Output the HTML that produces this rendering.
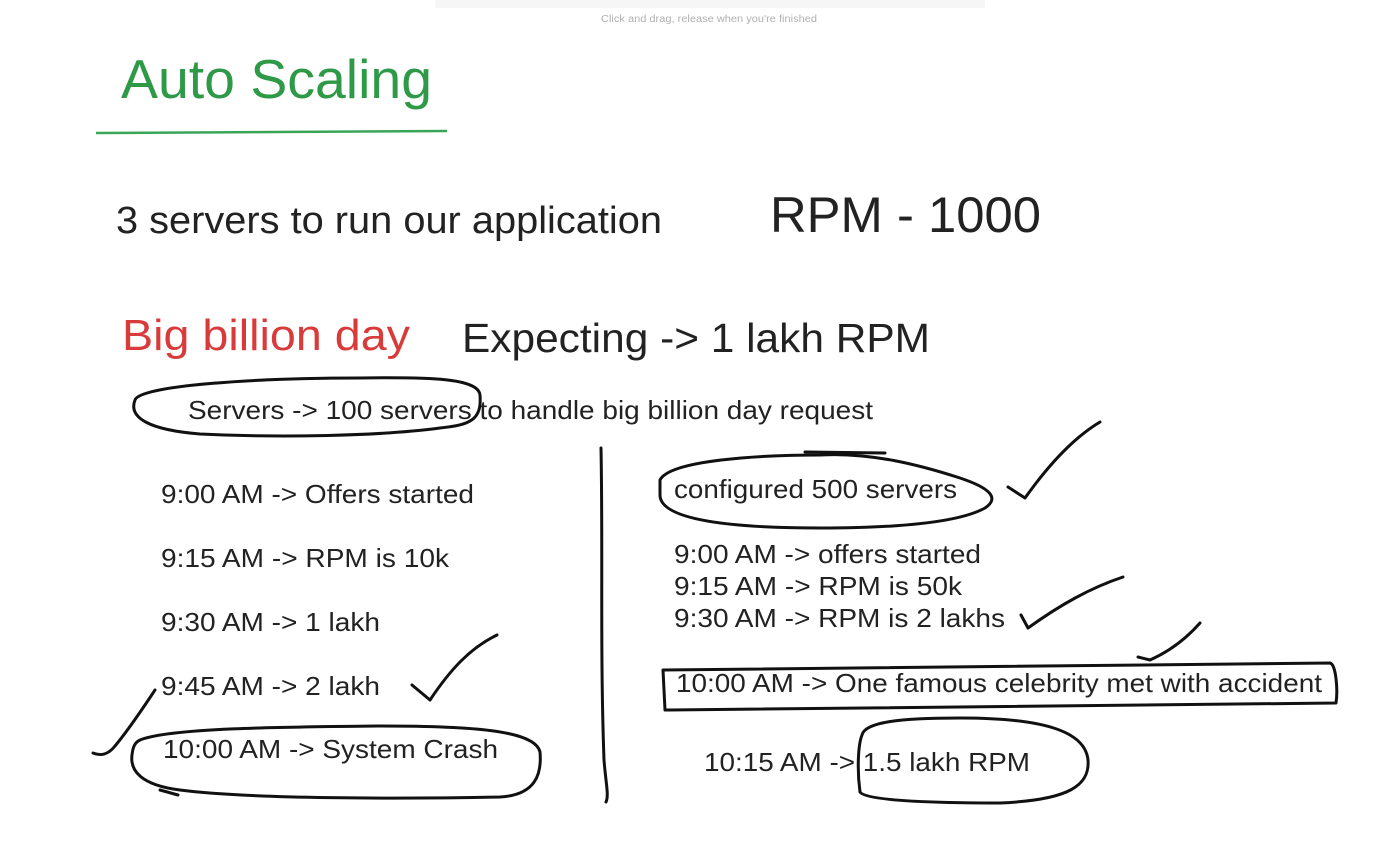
<!DOCTYPE html>
<html><head><meta charset="utf-8"><style>
html,body{margin:0;padding:0;background:#fff;width:1390px;height:842px;overflow:hidden}
svg{display:block}
text{font-family:"Liberation Sans",Arial,sans-serif;fill:#222}
</style></head><body>
<svg width="1390" height="842" viewBox="0 0 1390 842" xmlns="http://www.w3.org/2000/svg">
<rect x="435" y="0" width="550" height="8" fill="#f6f6f6"/>
<text x="709" y="22" font-size="10" fill="#b0b0b0" style="fill:#b0b0b0" text-anchor="middle" textLength="216" lengthAdjust="spacingAndGlyphs">Click and drag, release when you're finished</text>

<text x="121" y="98" font-size="55" style="fill:#2e9a48" textLength="311" lengthAdjust="spacingAndGlyphs">Auto Scaling</text>
<path d="M96 133 L447 131" stroke="#3aa557" stroke-width="2.5" fill="none"/>

<text x="116" y="233" font-size="38" textLength="546" lengthAdjust="spacingAndGlyphs">3 servers to run our application</text>
<text x="770" y="232" font-size="50" textLength="271" lengthAdjust="spacingAndGlyphs">RPM - 1000</text>

<text x="122" y="350" font-size="44" style="fill:#d93a3a" textLength="288" lengthAdjust="spacingAndGlyphs">Big billion day</text>
<text x="462" y="352" font-size="41" textLength="468" lengthAdjust="spacingAndGlyphs">Expecting -&gt; 1 lakh RPM</text>

<text x="188" y="419" font-size="26" textLength="685" lengthAdjust="spacingAndGlyphs">Servers -&gt; 100 servers to handle big billion day request</text>

<g font-size="26">
<text x="161" y="503" textLength="313" lengthAdjust="spacingAndGlyphs">9:00 AM -&gt; Offers started</text>
<text x="161" y="567" textLength="288" lengthAdjust="spacingAndGlyphs">9:15 AM -&gt; RPM is 10k</text>
<text x="161" y="631" textLength="219" lengthAdjust="spacingAndGlyphs">9:30 AM -&gt; 1 lakh</text>
<text x="161" y="695" textLength="219" lengthAdjust="spacingAndGlyphs">9:45 AM -&gt; 2 lakh</text>
<text x="163" y="758" textLength="335" lengthAdjust="spacingAndGlyphs">10:00 AM -&gt; System Crash</text>

<text x="674" y="498" textLength="283" lengthAdjust="spacingAndGlyphs">configured 500 servers</text>
<text x="674" y="563" textLength="307" lengthAdjust="spacingAndGlyphs">9:00 AM -&gt; offers started</text>
<text x="674" y="595" textLength="288" lengthAdjust="spacingAndGlyphs">9:15 AM -&gt; RPM is 50k</text>
<text x="674" y="627" textLength="331" lengthAdjust="spacingAndGlyphs">9:30 AM -&gt; RPM is 2 lakhs</text>
<text x="676" y="692" textLength="646" lengthAdjust="spacingAndGlyphs">10:00 AM -&gt; One famous celebrity met with accident</text>
<text x="704" y="771" textLength="326" lengthAdjust="spacingAndGlyphs">10:15 AM -&gt; 1.5 lakh RPM</text>
</g>

<g stroke="#111" stroke-width="3" fill="none" stroke-linecap="round" stroke-linejoin="round">
<!-- ellipse servers -->
<path d="M135 400 C140 385 260 378 360 378 C430 377 478 378 480 395 C482 420 470 425 440 428 C380 436 280 438 200 434 C150 430 128 418 135 400 Z"/>
<!-- vertical line -->
<path d="M601 448 C603 550 600 650 604 760 C606 785 609 795 606 802"/>
<!-- configured ellipse -->
<path d="M660 480 C670 460 760 455 820 455 C870 452 920 465 960 478 C990 488 1000 498 985 508 C960 522 900 528 820 528 C730 528 660 520 660 495 Z"/>
<path d="M805 452 L885 453"/>
<!-- check right top -->
<path d="M1008 487 L1025 498 C1045 470 1070 440 1100 422"/>
<!-- check 2 lakhs -->
<path d="M1021 615 L1028 628 C1060 605 1090 588 1123 577"/>
<!-- small check -->
<path d="M1138 657 L1150 660 C1168 652 1185 640 1200 623"/>
<!-- rect 10:00 -->
<path d="M663 670 L1330 663 C1336 664 1338 690 1336 703 L670 710 L665 710 Z"/>
<!-- 1.5 lakh -->
<path d="M862 735 C865 722 900 718 960 718 C1040 718 1085 730 1088 760 C1090 785 1070 800 1000 803 C920 803 865 800 860 792 C857 770 858 745 862 735 Z"/>
<!-- check 2 lakh -->
<path d="M412 685 L430 700 C450 670 470 648 497 635"/>
<!-- left check -->
<path d="M93 753 C100 756 108 755 115 746 C130 728 145 705 155 690"/>
<!-- system crash oval -->
<path d="M140 740 C170 728 280 727 380 726 C470 726 535 730 540 752 C542 775 535 795 500 797 C400 799 250 799 180 790 C140 785 130 770 132 755 C133 745 136 742 140 740 Z"/>
<path d="M160 790 L178 795"/>
</g>
</svg>
</body></html>
